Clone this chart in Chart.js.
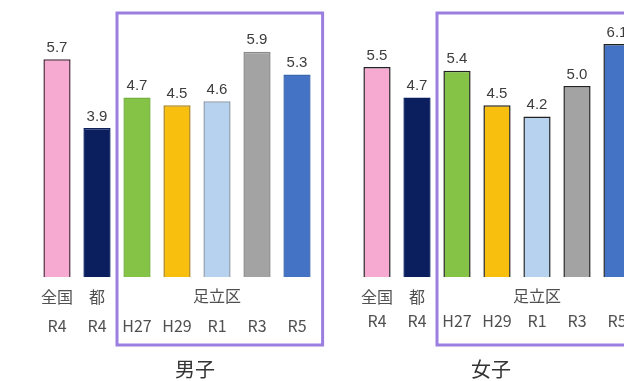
<!DOCTYPE html>
<html>
<head>
<meta charset="utf-8">
<script src="https://cdn.jsdelivr.net/npm/chart.js@4"></script>
<style>
  html, body { margin: 0; padding: 0; background: #fff; overflow: hidden; }
  #wrap { width: 640px; height: 381px; }
</style>
</head>
<body>
<div id="wrap"><canvas id="chart" width="640" height="381"></canvas></div>
<script>
// data
const regionLabels = ['全国', '都', '', '', '', '', ''];
const yearLabels = ['R4', 'R4', 'H27', 'H29', 'R1', 'R3', 'R5'];
const boysValues = [5.7, 3.9, 4.7, 4.5, 4.6, 5.9, 5.3];
const girlsValues = [5.5, 4.7, 5.4, 4.5, 4.2, 5.0, 6.1];
const groupTitles = ['男子', '女子'];
const localName = '足立区';

const fillColors = ['#f6a9d1', '#0b1f5e', '#84c346', '#f9bf0f', '#b6d2ee', '#a3a3a3', '#4472c4'];
const boysBorders = ['#4a2a3a', '#0b1f5e', '#74b03c', '#a88422', '#8d9bab', '#8a8a8a', '#3d66b0'];
const girlsBorders = ['#222', '#0b1f5e', '#222', '#222', '#222', '#222', '#222'];

// one empty slot between the two groups
const labels = yearLabels.concat([''], yearLabels);
const values = boysValues.concat([null], girlsValues);
const colors = fillColors.concat(['#fff'], fillColors);
const borders = boysBorders.concat(['#fff'], girlsBorders);

const textFont = "'Noto Sans CJK JP', sans-serif";
const titleSlots = [3.45, 2.85];
const yearRowY = [326, 321];

const decorPlugin = {
  id: 'decor',
  afterDatasetsDraw(chart) {
    const ctx = chart.ctx;
    const x = chart.scales.x;
    const meta = chart.getDatasetMeta(0);
    const slot = x.getPixelForValue(1) - x.getPixelForValue(0);

    // values above bars
    ctx.save();
    ctx.fillStyle = '#3c3c3c';
    ctx.font = "15px 'Liberation Sans', Arial, sans-serif";
    ctx.textAlign = 'center';
    ctx.textBaseline = 'bottom';
    meta.data.forEach(function (bar, i) {
      if (values[i] == null) return;
      ctx.fillText(values[i].toFixed(1), bar.x, bar.y - 4);
    });
    ctx.restore();

    // group boxes + labels
    [0, 8].forEach(function (start, g) {
      const left = (x.getPixelForValue(start + 1) + x.getPixelForValue(start + 2)) / 2;
      const right = x.getPixelForValue(start + 6) + slot * 0.64;
      ctx.save();
      ctx.strokeStyle = '#9a7fe0';
      ctx.lineWidth = 3;
      ctx.strokeRect(left, 13, right - left, 332);

      ctx.fillStyle = '#505050';
      ctx.textAlign = 'center';
      ctx.textBaseline = 'middle';
      ctx.font = '16px ' + textFont;
      for (let i = 0; i < 7; i++) {
        const cx = x.getPixelForValue(start + i);
        if (regionLabels[i]) ctx.fillText(regionLabels[i], cx, 297);
        ctx.fillText(yearLabels[i], cx, yearRowY[g]);
      }
      const mid = (x.getPixelForValue(start + 2) + x.getPixelForValue(start + 6)) / 2;
      ctx.fillText(localName, mid, 296);

      ctx.fillStyle = '#333';
      ctx.font = '20px ' + textFont;
      const titleX = x.getPixelForValue(start) + slot * titleSlots[g];
      ctx.fillText(groupTitles[g], titleX, 369);
      ctx.restore();
    });
  }
};

new Chart(document.getElementById('chart'), {
  type: 'bar',
  data: {
    labels: labels,
    datasets: [{
      data: values,
      backgroundColor: colors,
      borderColor: borders,
      borderWidth: 1.5,
      barPercentage: 0.68,
      categoryPercentage: 1
    }]
  },
  options: {
    responsive: false,
    animation: false,
    layout: { padding: { left: 37, right: 3, top: 2, bottom: 104 } },
    plugins: { legend: { display: false }, tooltip: { enabled: false } },
    scales: {
      x: { display: false },
      y: { display: false, min: 0, max: 7.2 }
    }
  },
  plugins: [decorPlugin]
});
</script>
</body>
</html>
